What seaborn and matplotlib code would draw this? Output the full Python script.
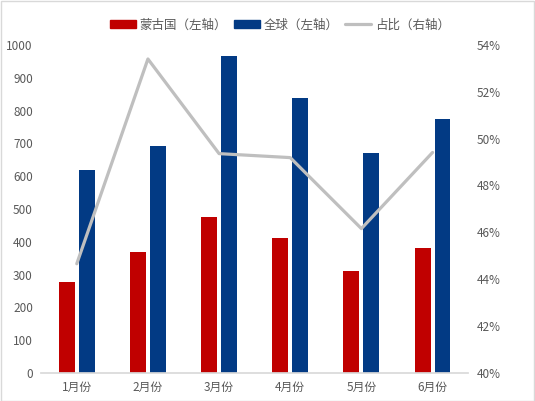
import numpy as np
import pandas as pd
import seaborn as sns
import matplotlib
matplotlib.use('Agg')
import matplotlib.pyplot as plt
from matplotlib.patches import Patch, Rectangle
from matplotlib.lines import Line2D
from matplotlib.ticker import FuncFormatter

months = ['1月份', '2月份', '3月份', '4月份', '5月份', '6月份']
mongolia = [278, 370, 476, 412, 312, 382]
world = [620, 693, 965, 839, 672, 775]
share = [44.66, 53.4, 49.36, 49.19, 46.16, 49.41]

red = '#C00000'
blue = '#023A84'
gray = '#BFBFBF'
text_gray = '#595959'

sns.set_theme(style='white')
plt.rcParams['font.family'] = ['Noto Sans CJK SC', 'DejaVu Sans']

df = pd.DataFrame({
    '月份': months * 2,
    '值': mongolia + world,
    '系列': ['蒙古国（左轴）'] * 6 + ['全球（左轴）'] * 6,
})

fig = plt.figure(figsize=(5.35, 4.01), dpi=100)
ax = fig.add_axes([0.077, 0.07, 0.798, 0.818])

sns.barplot(data=df, x='月份', y='值', hue='系列', order=months,
            palette=[red, blue], width=0.56, gap=0.2, saturation=1,
            linewidth=0, legend=False, ax=ax)
ax.set_xlim(-0.5, 5.5)
ax.set_ylim(0, 1000)
ax.set_yticks(range(0, 1001, 100))
ax.set_xlabel('')
ax.set_ylabel('')
for s in ['top', 'left', 'right']:
    ax.spines[s].set_visible(False)
ax.spines['bottom'].set_color('#D9D9D9')
ax.tick_params(axis='both', length=0, labelsize=8.5, colors=text_gray, pad=6)

ax2 = ax.twinx()
sns.lineplot(x=np.arange(len(months)), y=share, color=gray, linewidth=2.3,
             ax=ax2)
ax2.set_ylim(40, 54)
ax2.set_yticks(range(40, 55, 2))
ax2.yaxis.set_major_formatter(FuncFormatter(lambda v, p: f'{v:.0f}%'))
ax2.set_ylabel('')
for s in ['top', 'left', 'right', 'bottom']:
    ax2.spines[s].set_visible(False)
ax2.tick_params(axis='y', length=0, labelsize=8.5, colors=text_gray, pad=6)

handles = [Patch(color=red), Patch(color=blue),
           Line2D([0], [0], color=gray, linewidth=2.3)]
labels = ['蒙古国（左轴）', '全球（左轴）', '占比（右轴）']
leg = fig.legend(handles, labels, loc='center', bbox_to_anchor=(0.523, 0.938),
                 ncol=3, frameon=False, fontsize=9, handlelength=2.1,
                 handleheight=0.6, columnspacing=0.5, handletextpad=0.3)
for t in leg.get_texts():
    t.set_color(text_gray)

fig.patches.append(Rectangle((0.001, 0.001), 0.997, 0.997, transform=fig.transFigure,
                             fill=False, edgecolor='#D9D9D9', linewidth=1))

fig.savefig('out.png', dpi=100)
